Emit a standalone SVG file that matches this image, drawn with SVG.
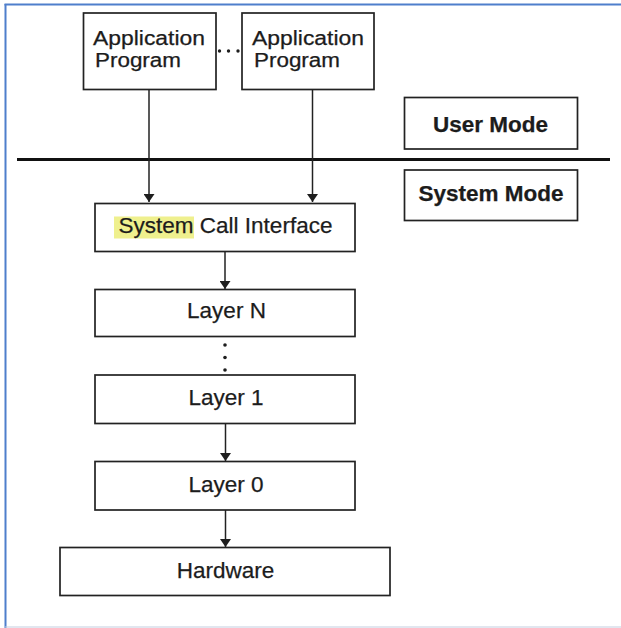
<svg xmlns="http://www.w3.org/2000/svg" width="621" height="628" viewBox="0 0 621 628">
  <defs>
    <marker id="arrow" viewBox="0 0 8 11" refX="8" refY="5.5" markerWidth="8" markerHeight="11" markerUnits="userSpaceOnUse" orient="auto">
      <path d="M0,0 L8,5.5 L0,11 Z" fill="#1e1e1e"/>
    </marker>
    <style>
      .box { fill: #ffffff; stroke: #222222; stroke-width: 1.7; }
      .lbl { font-family: "Liberation Sans", Arial, sans-serif; font-size: 22.5px; fill: #1c1c1c; stroke: #1c1c1c; stroke-width: 0.25; }
      .app { font-size: 20px; }
      .ctr { text-anchor: middle; }
      .bold { font-weight: bold; }
      .conn { stroke: #222222; stroke-width: 1.5; fill: none; }
      .dot { fill: #1e1e1e; }
    </style>
  </defs>

  <rect x="0" y="0" width="621" height="628" fill="#ffffff"/>
  <!-- frame -->
  <line x1="4.5" y1="4.5" x2="621" y2="4.5" stroke="#4f7fcc" stroke-width="2"/>
  <line x1="5.5" y1="4" x2="5.5" y2="628" stroke="#4f7fcc" stroke-width="2"/>
  <line x1="5" y1="627" x2="621" y2="627" stroke="#c3cde0" stroke-width="1.2"/>

  <!-- mode separator -->
  <line x1="17" y1="159.5" x2="610" y2="159.5" stroke="#111111" stroke-width="3"/>

  <g id="connectors">
    <line class="conn" x1="149" y1="89.5" x2="149" y2="202" marker-end="url(#arrow)"/>
    <line class="conn" x1="312.5" y1="89.5" x2="312.5" y2="202" marker-end="url(#arrow)"/>
    <line class="conn" x1="225" y1="252" x2="225" y2="289" marker-end="url(#arrow)"/>
    <line class="conn" x1="225.5" y1="423.5" x2="225.5" y2="461" marker-end="url(#arrow)"/>
    <line class="conn" x1="225.5" y1="510" x2="225.5" y2="547" marker-end="url(#arrow)"/>
    <!-- dotted links -->
    <circle class="dot" cx="219.5" cy="51" r="1.7"/>
    <circle class="dot" cx="228.5" cy="51" r="1.7"/>
    <circle class="dot" cx="238" cy="51" r="1.7"/>
    <circle class="dot" cx="225" cy="345" r="1.8"/>
    <circle class="dot" cx="225" cy="357.5" r="1.8"/>
    <circle class="dot" cx="225" cy="370" r="1.8"/>
  </g>

  <g id="app1">
    <rect class="box" x="83.5" y="13" width="132.5" height="76.5"/>
    <text class="lbl app" x="93" y="44.5" textLength="112" lengthAdjust="spacingAndGlyphs">Application</text>
    <text class="lbl app" x="95" y="67" textLength="86" lengthAdjust="spacingAndGlyphs">Program</text>
  </g>

  <g id="app2">
    <rect class="box" x="242" y="13" width="132" height="76.5"/>
    <text class="lbl app" x="252" y="44.5" textLength="112" lengthAdjust="spacingAndGlyphs">Application</text>
    <text class="lbl app" x="254" y="67" textLength="86" lengthAdjust="spacingAndGlyphs">Program</text>
  </g>

  <g id="user-mode">
    <rect class="box" x="404.5" y="97.5" width="173" height="51.5"/>
    <text class="lbl ctr bold" x="490.5" y="131.5">User Mode</text>
  </g>

  <g id="system-mode">
    <rect class="box" x="404.5" y="170" width="173" height="50.5"/>
    <text class="lbl ctr bold" x="491" y="201">System Mode</text>
  </g>

  <g id="syscall">
    <rect class="box" x="95" y="203.5" width="260" height="48"/>
    <rect x="114" y="216.5" width="80" height="22" fill="#eff08e"/>
    <text class="lbl ctr" x="225.5" y="233">System Call Interface</text>
  </g>

  <g id="layer-n">
    <rect class="box" x="95" y="289.5" width="260" height="47"/>
    <text class="lbl ctr" x="226.5" y="318">Layer N</text>
  </g>

  <g id="layer-1">
    <rect class="box" x="95" y="375" width="260" height="48.5"/>
    <text class="lbl ctr" x="226" y="405">Layer 1</text>
  </g>

  <g id="layer-0">
    <rect class="box" x="95" y="461.5" width="260" height="48.5"/>
    <text class="lbl ctr" x="226" y="491.5">Layer 0</text>
  </g>

  <g id="hardware">
    <rect class="box" x="60" y="547.5" width="330" height="48"/>
    <text class="lbl ctr" x="225.5" y="578">Hardware</text>
  </g>
</svg>
